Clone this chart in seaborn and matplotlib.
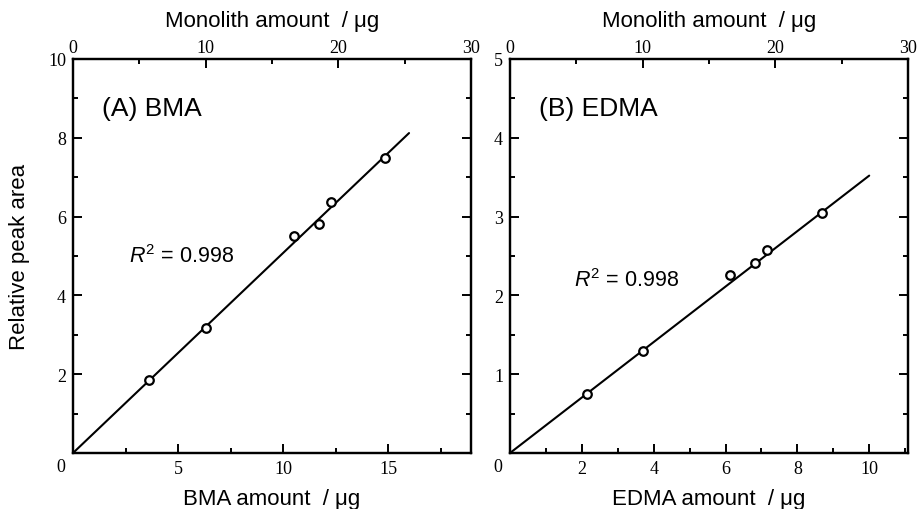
import matplotlib
matplotlib.use("Agg")
import matplotlib.pyplot as plt
import seaborn as sns
import pandas as pd
from matplotlib.ticker import MultipleLocator

sns.set_theme(style="ticks")
plt.rcParams['font.family'] = ['Liberation Sans', 'DejaVu Sans']
plt.rcParams['mathtext.fontset'] = 'custom'
plt.rcParams['mathtext.rm'] = 'Liberation Sans'
plt.rcParams['mathtext.it'] = 'Liberation Sans:italic'
for k in ['text.color', 'axes.labelcolor', 'xtick.color', 'ytick.color',
          'axes.edgecolor', 'xtick.labelcolor', 'ytick.labelcolor']:
    plt.rcParams[k] = 'black'

# ---- data ----
bma_x = [3.63, 6.33, 10.52, 11.70, 12.29, 14.87]
bma_y = [1.86, 3.18, 5.50, 5.82, 6.38, 7.49]
bma_fit_x = [0.0, 16.0]
bma_fit_y = [0.0, 8.12]

edma_x = [2.14, 3.71, 6.13, 6.83, 7.16, 8.68]
edma_y = [0.75, 1.30, 2.26, 2.41, 2.57, 3.04]
edma_fit_x = [0.0, 10.0]
edma_fit_y = [0.0, 3.52]

panel_titles = ["(A) BMA", "(B) EDMA"]
x_labels = ["BMA amount  / μg", "EDMA amount  / μg"]
top_label = "Monolith amount  / μg"
y_label = "Relative peak area"
r2_text = r"$R^{2}$ = 0.998"

W, H = 917, 510
fig = plt.figure(figsize=(W / 100, H / 100), dpi=100)

def px_rect(l, t, r, b):
    return [l / W, 1 - b / H, (r - l) / W, (b - t) / H]

ax1 = fig.add_axes(px_rect(73, 60, 471, 454))
ax2 = fig.add_axes(px_rect(510, 60, 908, 454))

serif = 'Liberation Serif'
tick_fs = 13
lab_fs = 16

def style_axes(ax):
    for s in ax.spines.values():
        s.set_linewidth(1.6)
        s.set_color('black')
    ax.tick_params(which='both', direction='in', colors='black', width=1.4,
                   top=False, right=True, labelsize=tick_fs)
    ax.tick_params(which='major', length=6.5)
    ax.tick_params(which='minor', length=3.6)
    ax.tick_params(axis='y', pad=5)
    ax.tick_params(axis='x', pad=5)

def draw_panel(ax, xs, ys, fx, fy, xlim, ylim, xmaj, xmin, ymaj, ymin,
               title, xlabel, r2pos, ylabel=None):
    df = pd.DataFrame({"x": xs, "y": ys})
    fit = pd.DataFrame({"x": fx, "y": fy})
    sns.lineplot(data=fit, x="x", y="y", ax=ax, color='black', linewidth=1.5)
    sns.scatterplot(data=df, x="x", y="y", ax=ax, marker='o', s=38,
                    facecolor='white', edgecolor='black', linewidth=1.6, zorder=3)
    ax.set_xlim(*xlim)
    ax.set_ylim(*ylim)
    ax.xaxis.set_major_locator(MultipleLocator(xmaj))
    ax.xaxis.set_minor_locator(MultipleLocator(xmin))
    ax.yaxis.set_major_locator(MultipleLocator(ymaj))
    ax.yaxis.set_minor_locator(MultipleLocator(ymin))
    style_axes(ax)
    fig.canvas.draw()
    xt = [v for v in ax.get_xticks() if xlim[0] <= v <= xlim[1]]
    ax.set_xticks(xt)
    ax.set_xticklabels(["" if abs(v) < 1e-9 else f"{v:g}" for v in xt],
                       fontfamily=serif, fontsize=tick_fs, color='black')
    yt = [v for v in ax.get_yticks() if ylim[0] <= v <= ylim[1]]
    ax.set_yticks(yt)
    ax.set_yticklabels(["" if abs(v) < 1e-9 else f"{v:g}" for v in yt],
                       fontfamily=serif, fontsize=tick_fs, color='black')
    ax.xaxis.set_minor_locator(MultipleLocator(xmin))
    ax.yaxis.set_minor_locator(MultipleLocator(ymin))
    ax.set_xlim(*xlim)
    ax.set_ylim(*ylim)
    ax.set_xlabel(xlabel, fontsize=lab_fs, color='black')
    ax.xaxis.set_label_coords(0.5, -0.088)
    if ylabel:
        ax.set_ylabel(ylabel, fontsize=lab_fs, color='black')
        ax.yaxis.set_label_coords(-0.135, 0.5)
        ax.yaxis.label.set_va('center')
    else:
        ax.set_ylabel("")
    ax.text(-0.03, -0.033, "0", transform=ax.transAxes, ha='center', va='center',
            fontfamily=serif, fontsize=tick_fs, color='black')
    ax.text(0.073, 0.875, title, transform=ax.transAxes, ha='left', va='center',
            fontsize=19, color='black')
    ax.text(r2pos[0], r2pos[1], r2_text, transform=ax.transAxes, ha='left',
            va='center', fontsize=15.5, color='black')
    # top axis
    top = ax.twiny()
    top.set_xlim(0, 30)
    top.xaxis.set_major_locator(MultipleLocator(10))
    top.xaxis.set_minor_locator(MultipleLocator(5))
    for s in top.spines.values():
        s.set_linewidth(1.6)
        s.set_color('black')
    top.tick_params(which='both', direction='in', width=1.4, labelsize=tick_fs,
                    pad=2, colors='black')
    top.tick_params(which='major', length=6.5)
    top.tick_params(which='minor', length=3.6)
    for lab in top.get_xticklabels():
        lab.set_fontfamily(serif)
    top.set_xlabel(top_label, fontsize=lab_fs, color='black')
    top.xaxis.set_label_coords(0.5, 1.097)
    top.xaxis.label.set_va('center')

draw_panel(ax1, bma_x, bma_y, bma_fit_x, bma_fit_y, (0, 18.95), (0, 10),
           5, 2.5, 2, 1, panel_titles[0], x_labels[0], (0.14, 0.50), y_label)
draw_panel(ax2, edma_x, edma_y, edma_fit_x, edma_fit_y, (0, 11.08), (0, 5),
           2, 1, 1, 0.5, panel_titles[1], x_labels[1], (0.16, 0.44))

fig.savefig("out.png", dpi=100)
